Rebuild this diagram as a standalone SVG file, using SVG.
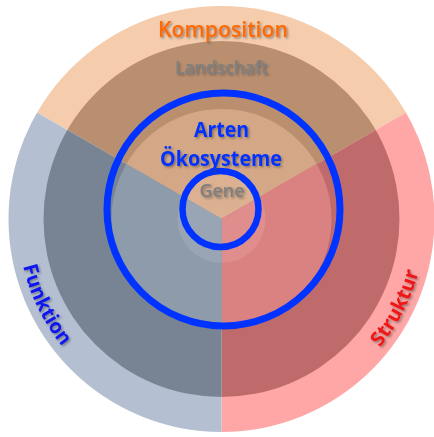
<svg xmlns="http://www.w3.org/2000/svg" width="434" height="437" viewBox="0 0 434 437">
<defs>
<style>
.t{font-family:"Open Sans","Liberation Sans",sans-serif;text-anchor:middle;filter:url(#sh)}
.blue{fill:none;stroke:#0033ff}
</style>
<filter id="sh" x="-20%" y="-40%" width="140%" height="180%">
<feDropShadow dx="1.5" dy="1.5" stdDeviation="1" flood-color="#404040" flood-opacity="0.55"/>
</filter>
<clipPath id="cTop"><path d="M221.5 219 L31 109 A220 220 0 0 1 412 109 Z"/></clipPath>
<clipPath id="cRight"><path d="M221.5 219 L412 109 A220 220 0 0 1 221.5 439 Z"/></clipPath>
<clipPath id="cLeft"><path d="M221.5 219 L221.5 439 A220 220 0 0 1 31 109 Z"/></clipPath>
<path id="arcF" d="M18.0 204.8 A204 204 0 0 0 107.4 388.1"/>
<path id="arcS" d="M332.6 390.1 A204 204 0 0 0 425.2 208.3"/>
</defs>
<g id="sector-komposition" clip-path="url(#cTop)">
<circle cx="221.5" cy="219" r="213" fill="#f5cdad"/>
<circle cx="221.5" cy="219" r="178" fill="#b98f70"/>
<circle cx="221.5" cy="219" r="110" fill="#d4a887"/>
<circle cx="221.5" cy="219" r="44" fill="#dbb191"/>
</g>
<g id="sector-struktur" clip-path="url(#cRight)">
<circle cx="221.5" cy="219" r="213" fill="#ffa7a7"/>
<circle cx="221.5" cy="219" r="178" fill="#c06b6b"/>
<circle cx="221.5" cy="219" r="110" fill="#da8282"/>
<circle cx="221.5" cy="219" r="44" fill="#df8d8d"/>
</g>
<g id="sector-funktion" clip-path="url(#cLeft)">
<circle cx="221.5" cy="219" r="213" fill="#b4c0d2"/>
<circle cx="221.5" cy="219" r="178" fill="#788494"/>
<circle cx="221.5" cy="219" r="110" fill="#8e9bab"/>
<circle cx="221.5" cy="219" r="44" fill="#99a5b5"/>
</g>
<g id="connectors">
<circle id="ring-arten" class="blue" cx="223.5" cy="209.5" r="116.5" stroke-width="7"/>
<circle id="ring-gene" class="blue" cx="220.5" cy="209" r="38" stroke-width="6.5"/>
</g>
<g id="labels">
<text class="t" x="223" y="37" font-size="22" font-weight="600" fill="#ff6a00" textLength="130" lengthAdjust="spacingAndGlyphs">Komposition</text>
<text class="t" x="221.5" y="74" font-size="17.5" font-weight="600" fill="#7f7f7f" textLength="93" lengthAdjust="spacingAndGlyphs">Landschaft</text>
<text class="t" x="221.5" y="137" font-size="22" font-weight="700" fill="#0033ff" textLength="55" lengthAdjust="spacingAndGlyphs">Arten</text>
<text class="t" x="221" y="166" font-size="22" font-weight="700" fill="#0033ff" textLength="122" lengthAdjust="spacingAndGlyphs">Ökosysteme</text>
<text class="t" x="222" y="197" font-size="18" font-weight="600" fill="#7f7f7f" textLength="45" lengthAdjust="spacingAndGlyphs">Gene</text>
<text class="t" font-size="20" font-weight="700" fill="#0a14f0"><textPath href="#arcF" startOffset="50%">Funktion</textPath></text>
<text class="t" font-size="20" font-weight="700" fill="#f01414"><textPath href="#arcS" startOffset="50%">Struktur</textPath></text>
</g>
</svg>
